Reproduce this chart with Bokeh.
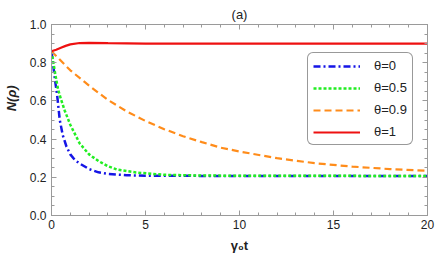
from bokeh.plotting import figure
from bokeh.models import LinearAxis, Legend, LegendItem, Range1d, FixedTicker
from bokeh.embed import file_html
from bokeh.resources import INLINE

# data
t_blue = [0, 0.1, 0.2, 0.3, 0.44, 0.6, 0.8, 1.0, 1.25, 1.5, 2.0, 2.5, 3.0, 4.0, 5.0, 10.0, 20.0]
v_blue = [0.86, 0.78, 0.70, 0.63, 0.50, 0.42, 0.36, 0.32, 0.29, 0.272, 0.243, 0.226, 0.218, 0.211, 0.208, 0.207, 0.207]

t_green = [0, 0.2, 0.35, 0.5, 0.7, 1.0, 1.5, 2.0, 2.5, 3.0, 3.5, 4.5, 6.0, 8.0, 12.0, 20.0]
v_green = [0.86, 0.74, 0.66, 0.61, 0.55, 0.475, 0.377, 0.32, 0.285, 0.258, 0.24, 0.225, 0.213, 0.209, 0.208, 0.207]

t_orange = [0, 1, 2, 3, 4, 5, 6, 7, 8, 9, 10, 12, 14, 16, 18, 20]
v_orange = [0.86, 0.76, 0.68, 0.605, 0.545, 0.495, 0.452, 0.415, 0.384, 0.355, 0.335, 0.30, 0.274, 0.256, 0.243, 0.234]

t_red = [0, 0.25, 0.5, 0.75, 1.0, 1.5, 2.0, 3.0, 5.0, 10.0, 20.0]
v_red = [0.86, 0.868, 0.878, 0.888, 0.896, 0.903, 0.904, 0.902, 0.90, 0.90, 0.90]

x_ticks = [0, 5, 10, 15, 20]
y_ticks = [0.0, 0.2, 0.4, 0.6, 0.8, 1.0]
y_tick_labels = {0.0: "0.0", 0.2: "0.2", 0.4: "0.4", 0.6: "0.6", 0.8: "0.8", 1.0: "1.0"}

FONT = "Liberation Sans"
FRAME = "#9a9a9a"
NB = "\u00a0"

p = figure(width=436, height=256, output_backend="svg", toolbar_location=None,
           x_range=Range1d(0, 20), y_range=Range1d(0, 1),
           min_border_left=50, min_border_right=9, min_border_top=24, min_border_bottom=41,
           x_axis_label="γ₀t", y_axis_label=NB * 12 + "N(ρ)", title="(a)")
p.grid.visible = False
p.outline_line_color = FRAME
p.background_fill_color = "white"
p.border_fill_color = "white"

p.title.align = "center"
p.title.text_font = FONT
p.title.text_font_size = "13px"
p.title.text_font_style = "normal"
p.title.text_color = "#222222"
p.title.standoff = 5
p.title.offset = 0

def style_axis(ax, ticks, minor, labels=True):
    ax.ticker = FixedTicker(ticks=ticks, minor_ticks=minor)
    ax.axis_line_color = FRAME
    ax.major_tick_line_color = FRAME
    ax.minor_tick_line_color = FRAME
    ax.major_tick_in = 5
    ax.major_tick_out = 0
    ax.minor_tick_in = 3
    ax.minor_tick_out = 0
    ax.major_label_text_font = FONT
    ax.major_label_text_font_size = "12px"
    ax.major_label_text_color = "#222222"
    ax.axis_label_text_font = FONT
    ax.axis_label_text_font_size = "13px"
    ax.axis_label_text_color = "#222222"
    if not labels:
        ax.major_label_overrides = {t: "" for t in ticks}
        ax.major_label_standoff = 0
        ax.axis_label = None

x_minor = [i for i in range(0, 21)]
y_minor = [round(0.05 * i, 2) for i in range(0, 21)]

xa = p.xaxis[0]
style_axis(xa, x_ticks, x_minor)
xa.major_label_standoff = 4
xa.axis_label_standoff = 6
xa.axis_label_text_font_style = "bold"

ya = p.yaxis[0]
style_axis(ya, y_ticks, y_minor)
ya.major_label_overrides = y_tick_labels
ya.major_label_standoff = 5
ya.axis_label_standoff = 8
ya.axis_label_text_font_style = "bold italic"

ra = LinearAxis()
style_axis(ra, y_ticks, y_minor, labels=False)
p.add_layout(ra, "right")
ta = LinearAxis()
style_axis(ta, x_ticks, x_minor, labels=False)
p.add_layout(ta, "above")

r_blue = p.line(t_blue, v_blue, line_color="#1515e6", line_width=2.5, line_dash="7 3 2 3")
r_green = p.line(t_green, v_green, line_color="#22ee22", line_width=2.5, line_dash="3 2")
r_orange = p.line(t_orange, v_orange, line_color="#ff8c1a", line_width=2.2, line_dash="7 4")
r_red = p.line(t_red, v_red, line_color="#ee1111", line_width=2.2)

legend = Legend(items=[
    LegendItem(label="θ=0", renderers=[r_blue]),
    LegendItem(label="θ=0.5", renderers=[r_green]),
    LegendItem(label="θ=0.9", renderers=[r_orange]),
    LegendItem(label="θ=1", renderers=[r_red]),
], location=(256, 70))
legend.border_line_color = "#333333"
legend.border_line_width = 1
legend.border_radius = 6
legend.padding = 5
legend.spacing = 7
legend.glyph_width = 47
legend.glyph_height = 14
legend.label_height = 14
legend.label_standoff = 14
legend.label_text_font = FONT
legend.label_text_font_size = "13px"
legend.label_text_color = "#222222"
legend.background_fill_alpha = 1
legend.margin = 0
p.add_layout(legend, "center")

open("out.html", "w").write(file_html(p, INLINE))
